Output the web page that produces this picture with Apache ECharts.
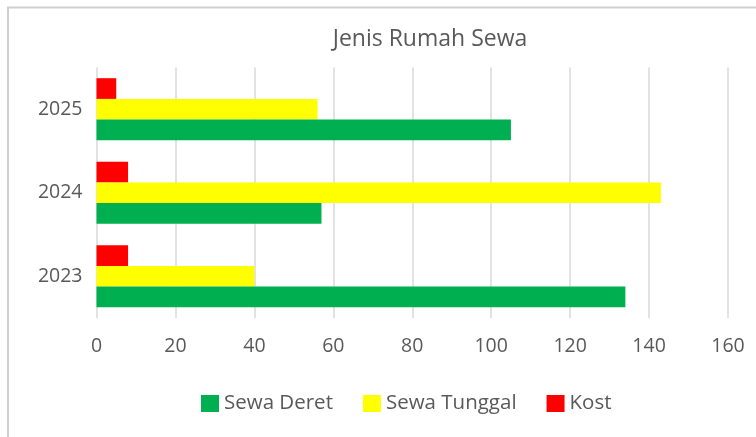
<!DOCTYPE html>
<html lang="en">
  <head>
    <meta charset="UTF-8" />
    <title>Jenis Rumah Sewa</title>
    <script src="https://cdn.jsdelivr.net/npm/echarts@6/dist/echarts.min.js"></script>
    <style>
      html, body { margin: 0; padding: 0; background: #fff; }
      #main { width: 756px; height: 437px; }
    </style>
  </head>
  <body>
    <div id="main"></div>
    <script>
      const years = ["2023", "2024", "2025"];
      const sewaDeret = [134, 57, 105];
      const sewaTunggal = [40, 143, 56];
      const kost = [8, 8, 5];
      const seriesNames = ["Sewa Deret", "Sewa Tunggal", "Kost"];
      const colors = ["#00b050", "#ffff00", "#ff0000"];

      const textColor = "#595959";
      const font = "Open Sans";

      const chart = echarts.init(document.getElementById("main"));

      // ECharts stacks horizontal bars top-down in series order,
      // so Kost goes first to land on top like the original
      const barStyle = { type: "bar", barGap: "0%", barCategoryGap: "25.6%" };

      const option = {
        animation: false,
        backgroundColor: "#fff",
        title: {
          text: "Jenis Rumah Sewa",
          left: 425,
          textAlign: "center",
          top: 23,
          textStyle: { color: textColor, fontSize: 23, fontWeight: "normal", fontFamily: font },
        },
        graphic: [
          {
            type: "rect",
            shape: { x: 8, y: 7.5, width: 800, height: 500 },
            style: { fill: "none", stroke: "#cfcfcf", lineWidth: 2 },
            silent: true,
          },
        ],
        legend: {
          top: 388,
          left: 196,
          itemWidth: 18,
          itemHeight: 17,
          itemGap: 30,
          icon: "rect",
          textStyle: { color: textColor, fontSize: 20.5, fontFamily: font },
          data: seriesNames,
        },
        grid: { left: 96.5, right: 28, top: 67.5, bottom: 119, containLabel: false },
        xAxis: {
          type: "value",
          min: 0,
          max: 160,
          interval: 20,
          axisLine: { show: false },
          axisTick: { show: false },
          axisLabel: { color: textColor, fontSize: 19.5, fontFamily: font, margin: 18 },
          splitLine: { show: true, lineStyle: { color: "#d9d9d9", width: 1.5 } },
        },
        yAxis: {
          type: "category",
          data: years,
          axisLine: { show: false },
          axisTick: { show: false },
          axisLabel: { color: textColor, fontSize: 19.5, fontFamily: font, margin: 14 },
        },
        series: [
          { ...barStyle, name: seriesNames[2], data: kost, itemStyle: { color: colors[2] } },
          { ...barStyle, name: seriesNames[1], data: sewaTunggal, itemStyle: { color: colors[1] } },
          { ...barStyle, name: seriesNames[0], data: sewaDeret, itemStyle: { color: colors[0] } },
        ],
      };

      chart.setOption(option);
    </script>
  </body>
</html>
